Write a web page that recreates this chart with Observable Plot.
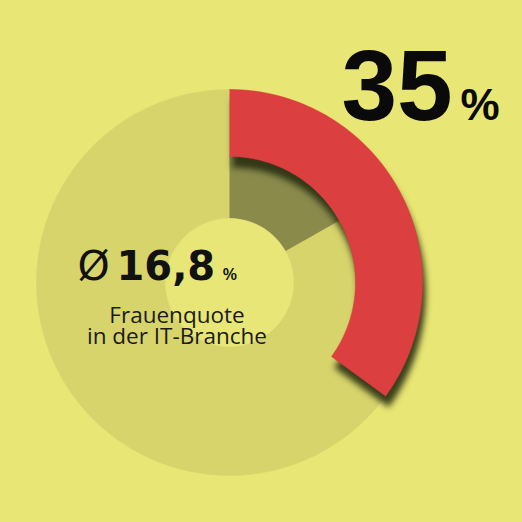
<!DOCTYPE html>
<html>
<head>
<meta charset="utf-8">
<script src="https://cdn.jsdelivr.net/npm/d3@7"></script>
<script src="https://cdn.jsdelivr.net/npm/@observablehq/plot@0.6"></script>
<style>
  html, body { margin: 0; padding: 0; background: #e8e674; }
  #chart { width: 522px; height: 522px; }
</style>
</head>
<body>
<div id="chart"></div>
<script>
// ---- data ----
const shareLabels = ["Frauenquote Unternehmen", "Ø Frauenquote in der IT-Branche"];
const shareValues = [35, 16.8];            // percent
const bigValueText = ["35", "%"];
const avgValueText = ["Ø", "16,8", "%"];
const captionLines = ["Frauenquote", "in der IT-Branche"];

// ---- layout ----
const W = 522, H = 522;
const cx = 229, cy = 282;
const R = 193, rRed = 126, rHole = 64;
const colors = {disk: "#d7d46c", avg: "#8a8a4b", hole: "#e8e676", red: "#db3f3f"};

function arcPoints(id, fromPct, toPct, r0, r1) {
  const pts = [];
  const n = 120;
  const a0 = fromPct / 100 * 2 * Math.PI, a1 = toPct / 100 * 2 * Math.PI;
  for (let i = 0; i <= n; i++) {
    const a = a0 + (a1 - a0) * i / n;
    pts.push({id, x: cx + r1 * Math.sin(a), y: cy - r1 * Math.cos(a)});
  }
  if (r0 > 0) {
    for (let i = n; i >= 0; i--) {
      const a = a0 + (a1 - a0) * i / n;
      pts.push({id, x: cx + r0 * Math.sin(a), y: cy - r0 * Math.cos(a)});
    }
  }
  return pts;
}

const disk = arcPoints("disk", 0, 100, 0, R);
const avgWedge = arcPoints("avg", 0, shareValues[1], rHole, rRed);
const hole = arcPoints("hole", 0, 100, 0, rHole);
const redArc = arcPoints("red", 0, shareValues[0], rRed, R);

const poly = (data, color) =>
  Plot.line(data, {x: "x", y: "y", z: "id", fill: color, stroke: color, strokeWidth: 0.5, curve: "linear"});

const chart = Plot.plot({
  width: W, height: H,
  margin: 0,
  x: {domain: [0, W], range: [0, W], axis: null},
  y: {domain: [0, H], range: [0, H], axis: null},
  style: {background: "#e8e674"},
  marks: [
    poly(disk, colors.disk),
    poly(avgWedge, colors.avg),
    poly(hole, colors.hole),
    poly(redArc, colors.red),
    Plot.text([bigValueText[0]], {x: () => 341, y: () => 119, text: d => d, textAnchor: "start", lineAnchor: "bottom",
      fontSize: 100, fontWeight: 700, fontFamily: "Liberation Sans, Arial, sans-serif", fill: "#0a0a0a"}),
    Plot.text([bigValueText[1]], {x: () => 460, y: () => 119, text: d => d, textAnchor: "start", lineAnchor: "bottom",
      fontSize: 44, fontWeight: 700, fontFamily: "Liberation Sans, Arial, sans-serif", fill: "#0a0a0a"}),
    Plot.text([avgValueText[0]], {x: () => 77, y: () => 279, text: d => d, textAnchor: "start", lineAnchor: "bottom",
      fontSize: 41, fontWeight: 400, fontFamily: "DejaVu Sans, sans-serif", fill: "#111"}),
    Plot.text([avgValueText[1]], {x: () => 116, y: () => 279, text: d => d, textAnchor: "start", lineAnchor: "bottom",
      fontSize: 40, fontWeight: 700, fontFamily: "DejaVu Sans, sans-serif", fill: "#111"}),
    Plot.text([avgValueText[2]], {x: () => 222, y: () => 279, text: d => d, textAnchor: "start", lineAnchor: "bottom",
      fontSize: 17, fontWeight: 600, fontFamily: "Open Sans, sans-serif", fill: "#111"}),
    Plot.text(captionLines, {x: () => 176.5, y: (d, i) => 322 + i * 21, text: d => d, textAnchor: "middle", lineAnchor: "bottom",
      fontSize: 22.5, fontWeight: 400, fontFamily: "Open Sans, sans-serif", fill: "#1a1a1a"})
  ]
});
const redG = chart.querySelector(`g[fill="${colors.red}"]`);
if (redG) redG.style.filter = "drop-shadow(3px 11px 3px rgba(40, 45, 15, 0.9))";
document.getElementById("chart").appendChild(chart);
</script>
</body>
</html>
